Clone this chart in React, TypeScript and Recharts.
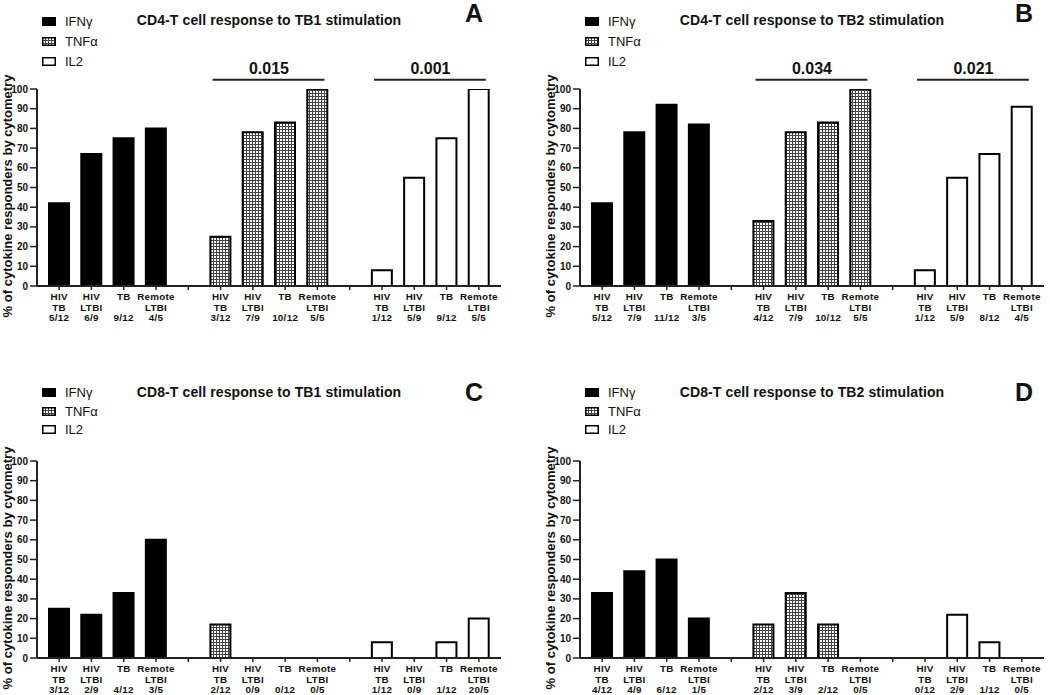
import React from 'react';
import { BarChart, Bar, XAxis, YAxis, Cell, ReferenceLine } from 'recharts';

// cytokines and group labels
const cytokineNames = ['IFNγ', 'TNFα', 'IL2'];
const cytokineKeys = ['ifn', 'tnf', 'il2'];
const groupLabels = [
  ['HIV', 'TB'],
  ['HIV', 'LTBI'],
  ['TB', ''],
  ['Remote', 'LTBI'],
];
const yTicks = [0, 10, 20, 30, 40, 50, 60, 70, 80, 90, 100];

// A: CD4 / TB1
const cd4Tb1Ifn = [42, 67, 75, 80];
const cd4Tb1Tnf = [25, 78, 83, 100];
const cd4Tb1Il2 = [8, 55, 75, 100];
const cd4Tb1Ifn_n = ['5/12', '6/9', '9/12', '4/5'];
const cd4Tb1Tnf_n = ['3/12', '7/9', '10/12', '5/5'];
const cd4Tb1Il2_n = ['1/12', '5/9', '9/12', '5/5'];
const cd4Tb1P = ['', '0.015', '0.001'];

// B: CD4 / TB2
const cd4Tb2Ifn = [42, 78, 92, 82];
const cd4Tb2Tnf = [33, 78, 83, 100];
const cd4Tb2Il2 = [8, 55, 67, 91];
const cd4Tb2Ifn_n = ['5/12', '7/9', '11/12', '3/5'];
const cd4Tb2Tnf_n = ['4/12', '7/9', '10/12', '5/5'];
const cd4Tb2Il2_n = ['1/12', '5/9', '8/12', '4/5'];
const cd4Tb2P = ['', '0.034', '0.021'];

// C: CD8 / TB1
const cd8Tb1Ifn = [25, 22, 33, 60];
const cd8Tb1Tnf = [17, 0, 0, 0];
const cd8Tb1Il2 = [8, 0, 8, 20];
const cd8Tb1Ifn_n = ['3/12', '2/9', '4/12', '3/5'];
const cd8Tb1Tnf_n = ['2/12', '0/9', '0/12', '0/5'];
const cd8Tb1Il2_n = ['1/12', '0/9', '1/12', '20/5'];
const cd8Tb1P = ['', '', ''];

// D: CD8 / TB2
const cd8Tb2Ifn = [33, 44, 50, 20];
const cd8Tb2Tnf = [17, 33, 17, 0];
const cd8Tb2Il2 = [0, 22, 8, 0];
const cd8Tb2Ifn_n = ['4/12', '4/9', '6/12', '1/5'];
const cd8Tb2Tnf_n = ['2/12', '3/9', '2/12', '0/5'];
const cd8Tb2Il2_n = ['0/12', '2/9', '1/12', '0/5'];
const cd8Tb2P = ['', '', ''];

const FONT = 'Arial, "Liberation Sans", Helvetica, sans-serif';
const BRACKET_LEVEL = 104.7;

interface Row {
  key: string;
  kind: string;
  value: number | null;
  l1: string;
  l2: string;
  l3: string;
}

function buildRows(id: string, vals: number[][], fracs: string[][]): Row[] {
  const rows: Row[] = [];
  cytokineKeys.forEach((k, gi) => {
    if (gi > 0) rows.push({ key: `${id}-gap${gi}`, kind: 'gap', value: null, l1: '', l2: '', l3: '' });
    vals[gi].forEach((v, i) => {
      rows.push({
        key: `${id}-${k}-${i}`,
        kind: k,
        value: v,
        l1: groupLabels[i][0],
        l2: groupLabels[i][1],
        l3: fracs[gi][i],
      });
    });
  });
  return rows;
}

const fills: Record<string, string> = {
  ifn: '#000',
  tnf: 'url(#tnfGrid)',
  il2: '#fff',
};

const Swatch = ({ kind }: { kind: string }) => (
  <svg width={14} height={9} style={{ display: 'block' }}>
    <rect x={0.75} y={0.75} width={12.5} height={7.5} fill={fills[kind]} stroke="#000" strokeWidth={1.5} />
  </svg>
);

interface PanelProps {
  left: number;
  top: number;
  letter: string;
  letterX: number;
  letterY: number;
  title: string;
  rows: Row[];
  pvals: string[];
  legendY: number[];
}

const Panel = ({ left, top, letter, letterX, letterY, title, rows, pvals, legendY }: PanelProps) => {
  const byKey: Record<string, Row> = {};
  rows.forEach((r) => (byKey[r.key] = r));

  const renderTick = (p: any) => {
    const r = byKey[p.payload.value];
    if (!r || r.kind === 'gap') return <g />;
    const common = {
      x: p.x,
      textAnchor: 'middle' as const,
      fontFamily: FONT,
      fontSize: 9.8,
      fontWeight: 'bold',
      fill: '#111',
      letterSpacing: 0.3,
    };
    return (
      <g>
        <text {...common} y={p.y + 8}>{r.l1}</text>
        {r.l2 ? <text {...common} y={p.y + 18.5}>{r.l2}</text> : null}
        <text {...common} y={p.y + 29}>{r.l3}</text>
      </g>
    );
  };

  const groups = [0, 1, 2].map((gi) => rows.filter((r) => r.kind === cytokineKeys[gi]));

  return (
    <div style={{ position: 'absolute', left, top, width: 525, height: 323 }}>
      <BarChart
        width={525}
        height={323}
        data={rows}
        margin={{ top: 89, right: 24, bottom: 0, left: 0 }}
      >
        <XAxis
          dataKey="key"
          interval={0}
          height={37}
          padding={{ left: 6, right: 6 }}
          tickSize={4}
          tickMargin={2}
          axisLine={{ stroke: '#222', strokeWidth: 2 }}
          tickLine={{ stroke: '#222', strokeWidth: 1.5 }}
          tick={renderTick}
        />
        <YAxis
          domain={[0, 100]}
          ticks={yTicks}
          interval={0}
          width={37}
          tickSize={7}
          tickMargin={2}
          allowDataOverflow
          axisLine={{ stroke: '#222', strokeWidth: 2 }}
          tickLine={{ stroke: '#222', strokeWidth: 1.5 }}
          tick={{ fontSize: 10, fontWeight: 'bold', fill: '#111', fontFamily: FONT }}
        />
        <Bar dataKey="value" barSize={20} stroke="#000" strokeWidth={2} isAnimationActive={false}>
          {rows.map((r) => (
            <Cell key={r.key} fill={fills[r.kind] || '#fff'} />
          ))}
        </Bar>
        {pvals.map((p, gi) =>
          p ? (
            <ReferenceLine
              key={gi}
              ifOverflow="visible"
              segment={[
                { x: groups[gi][0].key, y: BRACKET_LEVEL },
                { x: groups[gi][groups[gi].length - 1].key, y: BRACKET_LEVEL },
              ]}
              shape={(s: any) => (
                <g>
                  <line x1={s.x1 - 8} y1={s.y1} x2={s.x2 + 7} y2={s.y2} stroke="#222" strokeWidth={2} />
                  <text
                    x={(s.x1 + s.x2) / 2}
                    y={s.y1 - 6}
                    textAnchor="middle"
                    fontFamily={FONT}
                    fontSize={16}
                    fontWeight="bold"
                    fill="#111"
                  >
                    {p}
                  </text>
                </g>
              )}
            />
          ) : null
        )}
      </BarChart>

      {cytokineKeys.map((k, i) => (
        <div
          key={k}
          style={{
            position: 'absolute',
            left: 42,
            top: legendY[i] - 7,
            height: 14,
            display: 'flex',
            alignItems: 'center',
            fontFamily: FONT,
            fontSize: 13,
            color: '#111',
            whiteSpace: 'nowrap',
          }}
        >
          <Swatch kind={k} />
          <span style={{ marginLeft: 9 }}>{cytokineNames[i]}</span>
        </div>
      ))}

      <div
        style={{
          position: 'absolute',
          left: 269,
          top: 20,
          transform: 'translate(-50%, -50%)',
          fontFamily: FONT,
          fontSize: 14,
          letterSpacing: 0.1,
          fontWeight: 'bold',
          color: '#111',
          whiteSpace: 'nowrap',
        }}
      >
        {title}
      </div>

      <div
        style={{
          position: 'absolute',
          left: letterX,
          top: letterY,
          transform: 'translate(-50%, -50%)',
          fontFamily: FONT,
          fontSize: 25,
          fontWeight: 'bold',
          color: '#111',
          lineHeight: 1,
        }}
      >
        {letter}
      </div>

      <div
        style={{
          position: 'absolute',
          left: 7,
          top: 196,
          transform: 'translate(-50%, -50%) rotate(-90deg)',
          fontFamily: FONT,
          fontSize: 13,
          fontWeight: 'bold',
          color: '#111',
          whiteSpace: 'nowrap',
          lineHeight: 1,
        }}
      >
        % of cytokine responders by cytometry
      </div>
    </div>
  );
};

const rowsA = buildRows('a', [cd4Tb1Ifn, cd4Tb1Tnf, cd4Tb1Il2], [cd4Tb1Ifn_n, cd4Tb1Tnf_n, cd4Tb1Il2_n]);
const rowsB = buildRows('b', [cd4Tb2Ifn, cd4Tb2Tnf, cd4Tb2Il2], [cd4Tb2Ifn_n, cd4Tb2Tnf_n, cd4Tb2Il2_n]);
const rowsC = buildRows('c', [cd8Tb1Ifn, cd8Tb1Tnf, cd8Tb1Il2], [cd8Tb1Ifn_n, cd8Tb1Tnf_n, cd8Tb1Il2_n]);
const rowsD = buildRows('d', [cd8Tb2Ifn, cd8Tb2Tnf, cd8Tb2Il2], [cd8Tb2Ifn_n, cd8Tb2Tnf_n, cd8Tb2Il2_n]);

export default function App() {
  return (
    <div
      style={{
        position: 'absolute',
        left: 0,
        top: 0,
        width: 1050,
        height: 695,
        overflow: 'hidden',
        background: '#fff',
      }}
    >
      <svg width={0} height={0} style={{ position: 'absolute' }}>
        <defs>
          <pattern id="tnfGrid" width={3} height={3} patternUnits="userSpaceOnUse">
            <rect width={3} height={3} fill="#fff" />
            <path d="M0 0.5 H3 M0.5 0 V3" stroke="#444" strokeWidth={1} />
          </pattern>
        </defs>
      </svg>
      <Panel left={0} top={0} letter="A" letterX={474} letterY={13} title="CD4-T cell response to TB1 stimulation" rows={rowsA} pvals={cd4Tb1P} legendY={[21, 41, 61]} />
      <Panel left={543} top={0} letter="B" letterX={481} letterY={13} title="CD4-T cell response to TB2 stimulation" rows={rowsB} pvals={cd4Tb2P} legendY={[21, 41, 61]} />
      <Panel left={0} top={372} letter="C" letterX={474} letterY={20} title="CD8-T cell response to TB1 stimulation" rows={rowsC} pvals={cd8Tb1P} legendY={[20, 39, 57]} />
      <Panel left={543} top={372} letter="D" letterX={481} letterY={20} title="CD8-T cell response to TB2 stimulation" rows={rowsD} pvals={cd8Tb2P} legendY={[20, 39, 57]} />
    </div>
  );
}
